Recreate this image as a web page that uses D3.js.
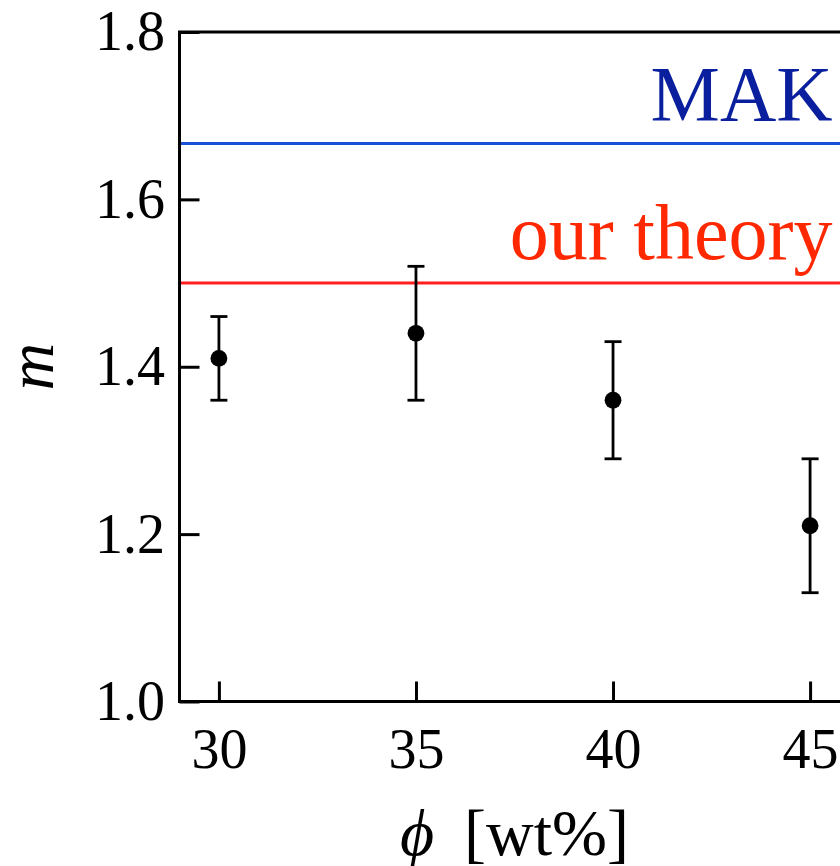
<!DOCTYPE html>
<html>
<head>
  <meta charset="utf-8">
  <title>m vs phi</title>
  <style type="text/css">
    body { margin: 0; background: #fff; }
    svg { display: block; font-family: "Liberation Serif", "Times New Roman", serif; }
    .axis text { font-family: "Liberation Serif", "Times New Roman", serif; font-size: 56px; fill: #000; }
    .axis line { stroke: #000; stroke-width: 3px; }
  </style>
  <script src="https://d3js.org/d3.v7.min.js"></script>
</head>
<body>
<script>
// data
var phi = [30, 35, 40, 45];
var nVal = [1.41, 1.44, 1.36, 1.21];
var nErr = [0.05, 0.08, 0.07, 0.08];
var xTicks = [30, 35, 40, 45];
var yTicks = [1.0, 1.2, 1.4, 1.6, 1.8];
var refLines = [
  {label: "MAK", value: 5 / 3, line: "#1a4fd8", text: "#0a1f9e"},
  {label: "our theory", value: 1.5, line: "#ff1f1f", text: "#ff2800"}
];

var W = 840, H = 866;
var margin = {top: 32, left: 179.5, bottom: 164.5};
var plotW = 670; // runs off the right edge of the picture
var plotH = H - margin.top - margin.bottom;

var svg = d3.select("body").append("svg")
  .attr("width", W)
  .attr("height", H);

var chart = svg.append("g")
  .attr("transform", "translate(" + margin.left + "," + margin.top + ")");

var x = d3.scaleLinear().domain([29, 46]).range([0, plotW]);
var y = d3.scaleLinear().domain([1.0, 1.8]).range([plotH, 0]);

// reference lines
chart.selectAll("line.ref").data(refLines).enter().append("line")
  .attr("class", "ref")
  .attr("x1", 0).attr("x2", plotW)
  .attr("y1", function(d) { return y(d.value); })
  .attr("y2", function(d) { return y(d.value); })
  .style("stroke", function(d) { return d.line; })
  .style("stroke-width", 3);

chart.selectAll("text.ref").data(refLines).enter().append("text")
  .attr("class", "ref")
  .attr("x", x(45.57))
  .attr("y", function(d) { return y(d.value) - 24; })
  .attr("text-anchor", "end")
  .style("font-size", "78px")
  .style("fill", function(d) { return d.text; })
  .text(function(d) { return d.label; });

// axes, ticks pointing inward
var xAxis = d3.axisBottom(x).tickValues(xTicks).tickSize(-20).tickPadding(27)
  .tickFormat(d3.format("d"));
var yAxis = d3.axisLeft(y).tickValues(yTicks).tickSize(-20).tickPadding(14.5)
  .tickFormat(d3.format(".1f"));

chart.append("g").attr("class", "axis")
  .attr("transform", "translate(0," + plotH + ")")
  .call(xAxis)
  .call(function(g) { g.select(".domain").remove(); });

chart.append("g").attr("class", "axis")
  .call(yAxis)
  .call(function(g) { g.select(".domain").remove(); });

// frame
chart.append("rect")
  .attr("x", 0).attr("y", 0)
  .attr("width", plotW).attr("height", plotH)
  .style("fill", "none")
  .style("stroke", "#000")
  .style("stroke-width", 3);

// error bars
var pts = phi.map(function(p, i) { return {x: p, y: nVal[i], e: nErr[i]}; });
var eb = chart.selectAll("g.eb").data(pts).enter().append("g").attr("class", "eb");
eb.append("line")
  .attr("x1", function(d) { return x(d.x); })
  .attr("x2", function(d) { return x(d.x); })
  .attr("y1", function(d) { return y(d.y - d.e); })
  .attr("y2", function(d) { return y(d.y + d.e); });
eb.append("line")
  .attr("x1", function(d) { return x(d.x) - 8.5; })
  .attr("x2", function(d) { return x(d.x) + 8.5; })
  .attr("y1", function(d) { return y(d.y + d.e); })
  .attr("y2", function(d) { return y(d.y + d.e); });
eb.append("line")
  .attr("x1", function(d) { return x(d.x) - 8.5; })
  .attr("x2", function(d) { return x(d.x) + 8.5; })
  .attr("y1", function(d) { return y(d.y - d.e); })
  .attr("y2", function(d) { return y(d.y - d.e); });
eb.selectAll("line").style("stroke", "#000").style("stroke-width", 2.8);

eb.append("circle")
  .attr("cx", function(d) { return x(d.x); })
  .attr("cy", function(d) { return y(d.y); })
  .attr("r", 8.4)
  .style("fill", "#000");

// axis titles
svg.append("text")
  .attr("x", margin.left + plotW / 2)
  .attr("y", 855)
  .attr("text-anchor", "middle")
  .style("font-size", "66px")
  .html('<tspan font-style="italic">\u03d5</tspan><tspan dx="30">[wt%]</tspan>');

svg.append("text")
  .attr("transform", "translate(53," + (margin.top + plotH / 2) + ") rotate(-90)")
  .attr("text-anchor", "middle")
  .style("font-size", "66px")
  .style("font-style", "italic")
  .text("m");
</script>
</body>
</html>
